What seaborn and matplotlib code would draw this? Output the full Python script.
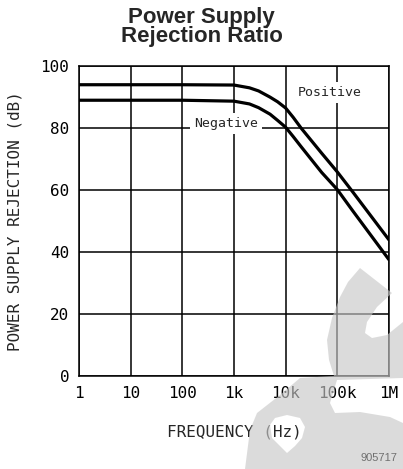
import pandas as pd
import matplotlib
matplotlib.use("Agg")
import matplotlib.pyplot as plt
from matplotlib.path import Path
from matplotlib.patches import PathPatch
import seaborn as sns

# values
freq_hz = [1, 10, 100, 1e3, 2e3, 3e3, 5e3, 7e3, 1e4, 1.4e4, 2e4, 5e4, 1e5, 2e5, 1e6]
positive_db = [94, 94, 94, 93.9, 93.0, 92.0, 90.0, 88.5, 86.5, 83.5, 80, 71.9, 65.9, 59.4, 44]
negative_db = [89, 89, 89, 88.7, 87.8, 86.6, 84.5, 82.5, 80.3, 77.3, 74.0, 65.7, 60.2, 53.3, 37.6]

x_ticks = [1, 10, 100, 1e3, 1e4, 1e5, 1e6]
x_tick_labels = ["1", "10", "100", "1k", "10k", "100k", "1M"]
y_ticks = [0, 20, 40, 60, 80, 100]

df = pd.DataFrame({
    "freq": freq_hz * 2,
    "db": positive_db + negative_db,
    "series": ["Positive"] * len(freq_hz) + ["Negative"] * len(freq_hz),
})

sns.set_theme(style="white")
plt.rcParams["font.family"] = ["DejaVu Sans Mono"]

W, H = 403, 469
fig = plt.figure(figsize=(W / 100, H / 100), dpi=100)
ax = fig.add_axes([0.196, 0.198, 0.769, 0.661])

sns.lineplot(data=df, x="freq", y="db", units="series", estimator=None,
             color="black", linewidth=2.3, ax=ax, legend=False, zorder=3)

ax.set_xscale("log")
ax.set_xlim(1, 1e6)
ax.set_ylim(0, 100)
ax.set_xticks(x_ticks)
ax.set_xticklabels(x_tick_labels)
ax.set_yticks(y_ticks)
ax.minorticks_off()
ax.tick_params(length=0, labelsize=11.5, colors="black", pad=7)
ax.grid(True, color="black", linewidth=1.1)
for s in ax.spines.values():
    s.set_color("black")
    s.set_linewidth(1.1)

ax.set_xlabel("FREQUENCY (Hz)", fontsize=11.5, labelpad=17)
ax.set_ylabel("POWER SUPPLY REJECTION (dB)", fontsize=11.5, labelpad=13)

box = dict(facecolor="white", edgecolor="none", pad=3)
ax.text(7.1e4, 91.5, "Positive", ha="center", va="center", fontsize=9.5, bbox=box, zorder=4)
ax.text(700, 81.5, "Negative", ha="center", va="center", fontsize=9.5, bbox=box, zorder=4)

fig.text(0.5, 0.985, "Power Supply\nRejection Ratio", ha="center", va="top",
         fontsize=16, fontweight="bold", family="Liberation Sans", linespacing=0.85)

# pale watermark shape in the lower right corner (pixel outline, y from top)
outer = [(360, 268), (348, 282), (340, 297), (332, 318), (327, 340), (329, 360),
         (334, 376), (300, 378), (280, 395), (257, 413), (250, 430), (245, 469),
         (403, 469), (403, 423), (390, 417), (360, 412), (335, 413), (330, 403),
         (337, 380), (403, 378), (403, 322), (387, 335), (372, 338), (365, 333),
         (367, 322), (377, 307), (392, 293), (360, 268)]
hole = [(270, 425), (275, 418), (287, 415), (300, 418), (305, 427), (302, 438),
        (295, 446), (287, 453), (280, 446), (272, 438), (270, 425)]
verts, codes = [], []
for ring in (outer, hole):
    pts = [(x / W, 1 - y / H) for x, y in ring]
    verts += pts
    codes += [Path.MOVETO] + [Path.LINETO] * (len(pts) - 2) + [Path.CLOSEPOLY]
fig.patches.append(PathPatch(Path(verts, codes), transform=fig.transFigure,
                             facecolor="#c8c8c8", edgecolor="none", alpha=0.64, zorder=5))

fig.text(0.985, 0.012, "905717", ha="right", va="bottom", fontsize=8,
         color="#707070", family="Liberation Sans", zorder=6)

fig.savefig("out.png", dpi=100)
